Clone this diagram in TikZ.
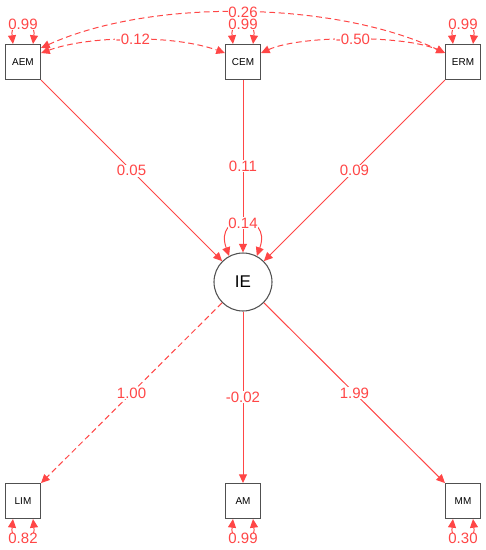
\documentclass[tikz,border=0pt]{standalone}
\usepackage{fontspec}
\setmainfont{Liberation Sans}
\usetikzlibrary{calc,arrows.meta}
\definecolor{pathred}{RGB}{255,70,70}
\definecolor{boxgray}{RGB}{80,80,80}

\begin{document}
\begin{tikzpicture}[x=0.03cm, y=-0.03cm,
	manifest/.style={draw=boxgray, line width=0.9pt, minimum size=1.05cm, inner sep=0pt, font=\fontsize{8.5}{9}\selectfont},
	latent/.style={circle, draw=boxgray, line width=0.9pt, minimum size=1.74cm, inner sep=0pt, font=\fontsize{14.5}{16}\selectfont},
	oneway/.style={draw=pathred, line width=0.85pt, -{Triangle[length=2.6mm,width=2.4mm]}},
	twoway/.style={draw=pathred, line width=0.85pt, {Triangle[length=2.6mm,width=2.4mm]}-{Triangle[length=2.6mm,width=2.4mm]}},
	fixed/.style={dash pattern=on 5pt off 3pt},
	est/.style={text=pathred, fill=white, inner sep=0.6pt, font=\fontsize{12.8}{13}\selectfont}]
		%%%%% START %%%%%
		
		\useasboundingbox (0, 0) rectangle (486, 550);
		
		\node[manifest] (AEM) at (23, 62) {AEM};
		\node[manifest] (CEM) at (243, 62) {CEM};
		\node[manifest] (ERM) at (463, 62) {ERM};
		\node[latent] (IE) at (243, 282) {IE};
		\node[manifest] (LIM) at (23, 501) {LIM};
		\node[manifest] (AM) at (243, 501) {AM};
		\node[manifest] (MM) at (463, 501) {MM};
		
		\draw[oneway] (AEM) -- (IE) node[est, midway] {0.05};
		\draw[oneway] (CEM) -- (IE) node[est, midway] {0.11};
		\draw[oneway] (ERM) -- (IE) node[est, midway] {0.09};
		
		\draw[oneway, fixed] (IE) -- (LIM) node[est, midway] {1.00};
		\draw[oneway] (IE) -- (AM) node[est, midway] {-0.02};
		\draw[oneway] (IE) -- (MM) node[est, midway] {1.99};
		
		\draw[twoway] (IE.118) .. controls +(-16, -44) and +(16, -44) .. (IE.62) node[est, pos=0.5] {0.14};
		
		\draw[twoway, fixed] ($(AEM.north east)+(0, 4)$) .. controls +(110, -50) and +(-110, -52) .. ($(ERM.west)+(0, -9)$) node[est, pos=0.5] {0.26};
		\draw[twoway, fixed] ($(AEM.east)+(0, -9)$) .. controls +(50, -18) and +(-50, -18) .. ($(CEM.west)+(0, -9)$) node[est, pos=0.5] {-0.12};
		\draw[twoway, fixed] ($(CEM.east)+(0, -9)$) .. controls +(40, -18) and +(-40, -18) .. ($(ERM.west)+(0, -9)$) node[est, pos=0.5] {-0.50};
		
		\draw[twoway] ($(AEM.north)+(-10, 0)$) .. controls +(-3, -26) and +(3, -26) .. ($(AEM.north)+(10, 0)$) node[est, pos=0.5] {0.99};
		\draw[twoway] ($(CEM.north)+(-10, 0)$) .. controls +(-3, -26) and +(3, -26) .. ($(CEM.north)+(10, 0)$) node[est, pos=0.5] {0.99};
		\draw[twoway] ($(ERM.north)+(-10, 0)$) .. controls +(-3, -26) and +(3, -26) .. ($(ERM.north)+(10, 0)$) node[est, pos=0.5] {0.99};
		
		\draw[twoway] ($(LIM.south)+(-10, 0)$) .. controls +(-3, 26) and +(3, 26) .. ($(LIM.south)+(10, 0)$) node[est, pos=0.5] {0.82};
		\draw[twoway] ($(AM.south)+(-10, 0)$) .. controls +(-3, 26) and +(3, 26) .. ($(AM.south)+(10, 0)$) node[est, pos=0.5] {0.99};
		\draw[twoway] ($(MM.south)+(-10, 0)$) .. controls +(-3, 26) and +(3, 26) .. ($(MM.south)+(10, 0)$) node[est, pos=0.5] {0.30};
		
		%%%%% END %%%%%
	\end{tikzpicture}
\end{document}
